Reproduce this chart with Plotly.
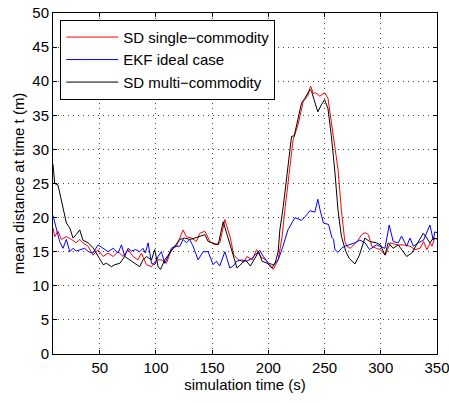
import plotly.graph_objects as go

# SD single-commodity (red)
t_red = [8.4, 9.9, 12.8, 15.9, 20.3, 24.8, 29, 32.2, 35, 39.6, 44, 48.5, 53, 57.4, 61.9, 66.3, 70.8, 75.2, 79.6, 84, 87, 91.5, 96, 100.4, 104.8, 109.3, 113.7, 118.2, 121.2, 124.1, 127.1, 131.5, 136, 139, 143.5, 147.9, 152.4, 156.8, 161.3, 166.2, 169.2, 173.7, 178, 181, 185.6, 189.5, 193, 197.5, 201.3, 204.3, 208.7, 212, 215, 218, 222, 226.5, 231, 235.5, 237.5, 240, 242, 245.8, 250, 253, 256, 259, 262, 265, 268, 270, 273, 276, 279, 283, 286, 289, 292, 296, 299.6, 304, 308.5, 314.5, 320, 326, 330.4, 335, 338, 341, 344, 345.5, 348, 350]
v_red = [18.5, 17.2, 18, 16.8, 17.2, 16.8, 16.3, 16.8, 16.3, 15.8, 14.5, 15.3, 14.3, 14.8, 14.3, 15, 14.3, 15.3, 14.3, 13.8, 14.8, 13.1, 12.8, 13.8, 13.8, 13.3, 15.3, 15.8, 17, 18.2, 17.2, 17, 16.5, 17.7, 18, 16.5, 16, 16.3, 19.7, 17, 14.5, 13.8, 13.5, 14.3, 13.8, 15.3, 14.3, 13.8, 13.1, 12.4, 13.8, 17, 21.6, 26, 31.4, 33.7, 37, 38, 39.3, 38.2, 38.3, 37.8, 38.3, 37.5, 34, 30, 27, 21, 16.5, 15.8, 15.5, 16, 16.5, 17.5, 17.8, 17.5, 15.8, 15.5, 15.3, 14.5, 16.3, 16, 16, 15.8, 15.3, 15.5, 16.5, 15.3, 16.3, 15.8, 17, 16.8]

# EKF ideal case (blue)
t_blue = [8.4, 11.4, 14.3, 17.3, 20.3, 23.3, 26.2, 29, 32.2, 36.5, 40, 44, 48.5, 53, 57.4, 61.9, 66.3, 69.3, 72.2, 75.2, 78.1, 82, 85.5, 88.5, 90.5, 93, 96, 98.9, 101.9, 104.8, 107.8, 110.8, 113.7, 116.7, 121.2, 124.1, 127.1, 130, 133, 137.5, 141.9, 146.4, 150.8, 153.8, 156.7, 161.3, 165.7, 168.7, 171.7, 176, 180.6, 185, 189.5, 192.5, 195.5, 200, 204.3, 208.7, 213, 217.4, 223.6, 229.5, 232.5, 237, 241.4, 244, 246, 249, 253.5, 256.5, 258, 259.2, 262, 265, 268, 272, 277, 281.4, 286, 290, 296, 303.7, 307.5, 311, 315.5, 318.5, 323, 326, 329, 333.5, 338, 343.7, 346.7, 348, 350]
v_blue = [20.3, 18.5, 16.5, 15.5, 16.8, 15, 15.5, 15.1, 15.3, 15.5, 15, 14.8, 16, 15.5, 15, 15.5, 14.8, 16, 14.3, 15.5, 15.1, 15.3, 15, 15.5, 14.8, 16.3, 13.3, 13.1, 14.3, 15, 13.3, 14.3, 15.5, 15.8, 15.8, 16.8, 16.3, 16.8, 15.8, 13.8, 15, 15, 13.1, 13.6, 12.9, 15, 12.6, 12.9, 13.6, 13.8, 13.6, 14, 14.8, 15.2, 14.3, 13.3, 13.1, 13.8, 15.8, 18.2, 20, 19.6, 20.1, 21, 20.8, 22.7, 21.1, 19.2, 19, 17.1, 16.8, 15.3, 14.9, 15.5, 15.8, 16, 16.3, 16.7, 16.3, 15.3, 16, 15.5, 18.9, 16.5, 16.3, 17.3, 15.8, 17, 15.8, 16.3, 16.7, 18.9, 16.7, 17.9, 17.8]

# SD multi-commodity (black)
t_black = [8.4, 9.9, 12.8, 15.9, 20.3, 23.3, 26.2, 29, 32.2, 35, 39.6, 44, 48.5, 53, 56, 60.4, 63.4, 67.9, 72.2, 76.6, 81, 85.5, 88.5, 91.5, 96, 98.9, 101.9, 104, 107.8, 112, 116.7, 121.2, 125.6, 130, 134.6, 139, 143.5, 146.4, 150.8, 155.3, 159.8, 164.2, 167.2, 172.1, 176.5, 179.5, 184, 187, 191.4, 194.4, 199, 203, 206, 208.7, 210.2, 213.2, 217, 220.6, 223, 226.5, 229.5, 232.5, 237, 238.4, 241, 244, 247, 250, 253, 256, 259, 262, 265, 269, 272, 277, 281, 285.8, 290, 296, 299.6, 303.7, 306.6, 311, 315.5, 318.5, 323, 327.5, 332, 337.8, 341, 343.7, 346.7, 350]
v_black = [27.8, 25, 24.8, 22.6, 19.2, 18.5, 17, 17.5, 18.2, 16.7, 16.3, 15.6, 14.3, 13.1, 13.3, 12.8, 13.1, 13.3, 14.3, 13.8, 13.3, 12.8, 13.8, 14.3, 13.8, 15.3, 12.8, 12.4, 13.8, 14.8, 15.8, 16.8, 17, 16.8, 17, 17.3, 17.5, 16.5, 16.3, 16, 19.4, 17, 15, 12.6, 13.3, 13.8, 12.9, 13.8, 15, 13.6, 13.3, 12.6, 13.3, 15, 18.2, 21.6, 27, 31.9, 32, 34.4, 36.8, 37.5, 38.8, 38.5, 37, 35.5, 36.5, 37.3, 36, 32, 27, 21, 17.2, 15, 14, 13.2, 14.5, 17, 16.5, 16.3, 16, 14.5, 16.3, 15.5, 16, 15.3, 14.3, 14.8, 16, 17.7, 17, 16.3, 17, 16.9]

x_ticks = [50, 100, 150, 200, 250, 300, 350]
y_ticks = [0, 5, 10, 15, 20, 25, 30, 35, 40, 45, 50]

FONT = "Liberation Sans, Arial, Helvetica, sans-serif"

fig = go.Figure()
fig.add_trace(go.Scatter(x=t_red, y=v_red, mode="lines", name="SD single\u2212commodity",
                         line=dict(color="#ff0000", width=1)))
fig.add_trace(go.Scatter(x=t_blue, y=v_blue, mode="lines", name="EKF ideal case",
                         line=dict(color="#0000ff", width=1)))
fig.add_trace(go.Scatter(x=t_black, y=v_black, mode="lines", name="SD multi\u2212commodity",
                         line=dict(color="#000000", width=1)))

axis_common = dict(
    showline=True, linecolor="black", linewidth=1, mirror="ticks",
    ticks="inside", ticklen=4, tickcolor="black",
    showgrid=True, gridcolor="#444444", griddash="1px,4px", gridwidth=1,
    zeroline=False, automargin=False, ticklabeloverflow="allow",
    tickfont=dict(family=FONT, size=15, color="black"),
)

fig.update_layout(
    width=449, height=403,
    margin=dict(l=53, r=12, t=13, b=49, autoexpand=False),
    paper_bgcolor="white", plot_bgcolor="white",
    font=dict(family=FONT, size=15, color="black"),
    xaxis=dict(range=[8.4, 350.001], tickvals=x_ticks, **axis_common,
               title=dict(text="simulation time (s)", font=dict(family=FONT, size=15), standoff=2)),
    yaxis=dict(range=[0, 50], tickvals=y_ticks, **axis_common,
               title=dict(text="mean distance at time t (m)", font=dict(family=FONT, size=15), standoff=4)),
    legend=dict(x=0.019, y=0.98, xanchor="left", yanchor="top",
                bgcolor="white", bordercolor="black", borderwidth=1,
                font=dict(family=FONT, size=15, color="black"),
                tracegroupgap=0, itemwidth=52),
    showlegend=True,
)

fig.write_html("out.html")
